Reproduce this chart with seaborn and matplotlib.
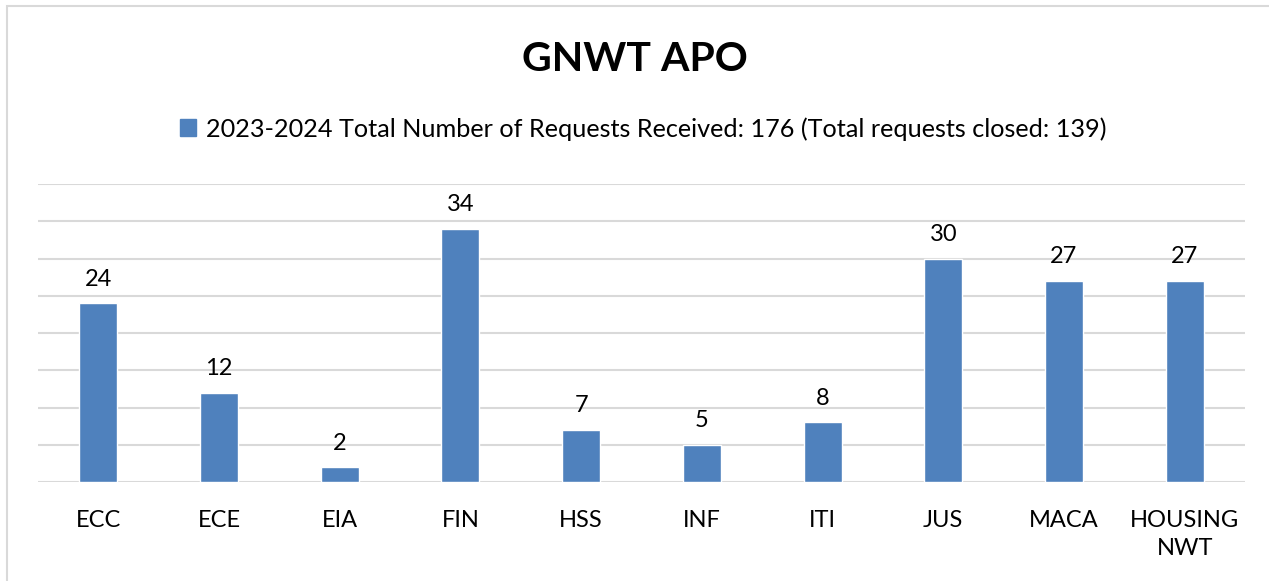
import pandas as pd
import seaborn as sns
import matplotlib.pyplot as plt
from matplotlib.patches import Rectangle, Patch

# Data
categories = ['ECC', 'ECE', 'EIA', 'FIN', 'HSS', 'INF', 'ITI', 'JUS', 'MACA', 'HOUSING\nNWT']
requests = [24, 12, 2, 34, 7, 5, 8, 30, 27, 27]
series_name = '2023-2024 Total Number of Requests Received: 176 (Total requests closed: 139)'

df = pd.DataFrame({'Department': categories, 'Requests': requests})

sns.set_theme(style='white')
plt.rcParams['font.family'] = ['Lato', 'DejaVu Sans']
plt.rcParams['text.color'] = 'black'
plt.rcParams['xtick.color'] = 'black'

bar_color = '#4F81BD'

fig = plt.figure(figsize=(12.69, 5.81), dpi=100)
ax = fig.add_axes([38 / 1269, 99 / 581, 1207 / 1269, 298 / 581])

sns.barplot(data=df, x='Department', y='Requests', color=bar_color, width=0.315,
            saturation=1, ax=ax)

ax.set_ylim(0, 40)
ax.set_yticks(range(0, 41, 5))
ax.yaxis.grid(True, color='#D9D9D9', linewidth=1.5)
ax.set_axisbelow(True)
ax.tick_params(axis='y', left=False, labelleft=False)
ax.tick_params(axis='x', bottom=False, labelsize=17, pad=14)
for lbl in ax.get_xticklabels():
    lbl.set_linespacing(1.45)
for s in ax.spines.values():
    s.set_visible(False)
ax.set_xlabel('')
ax.set_ylabel('')

# value labels
for i, v in enumerate(requests):
    ax.text(i, v + 1.8, str(v), ha='center', va='bottom', fontsize=17)

# title and legend
fig.text(0.5, 0.898, 'GNWT APO', ha='center', va='center', fontsize=29.5, fontweight='bold')
fig.legend(handles=[Patch(color=bar_color, label=series_name)], loc='center',
           bbox_to_anchor=(0.507, 0.778), frameon=False, fontsize=18.2,
           handlelength=0.65, handleheight=0.65, handletextpad=0.4)

# chart border
fig.patches.append(Rectangle((7 / 1269, -0.01), 1.5, 1.0 - 6 / 581 + 0.01, transform=fig.transFigure,
                             fill=False, edgecolor='#D9D9D9', linewidth=1.5))

fig.savefig('out.png', dpi=100)
